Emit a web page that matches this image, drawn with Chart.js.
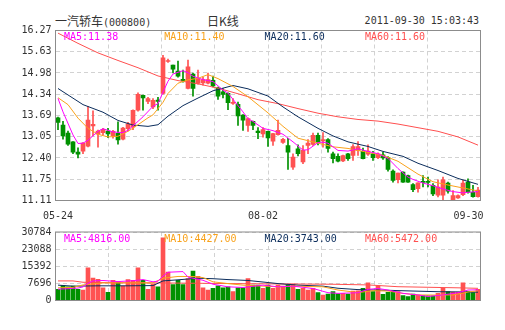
<!DOCTYPE html>
<html>
<head>
<meta charset="utf-8">
<script src="https://cdn.jsdelivr.net/npm/chart.js@4.4.0/dist/chart.umd.min.js"></script>
<style>
  html, body { margin: 0; padding: 0; background: #fff; }
  #wrap { position: relative; width: 505px; height: 330px; overflow: hidden; }
  canvas { position: absolute; left: 0; }
  .t { position: absolute; top: 14px; color: #333; white-space: nowrap; line-height: 14px; }
  .mono { font-family: "DejaVu Sans Mono", monospace; font-size: 10px; }
  .cjk { font-family: "Noto Sans CJK SC", sans-serif; font-size: 12px; }
</style>
</head>
<body>
<div id="wrap">
  <div class="t" style="left:55px"><span class="cjk">一汽轿车</span><span class="mono">(000800)</span></div>
  <div class="t cjk" style="left:207px">日K线</div>
  <div class="t mono" style="right:26px">2011-09-30 15:03:43</div>
  <canvas id="kChart" style="top:0" width="505" height="222"></canvas>
  <canvas id="volChart" style="top:222px" width="505" height="108"></canvas>
</div>
<script>
// daily candles, 05-24 .. 09-30 (85 sessions)
const opens = [13.62,13.40,13.16,12.89,12.58,12.61,12.76,13.37,13.12,13.17,13.22,13.08,13.15,12.97,13.29,13.34,13.85,14.30,14.12,13.95,
  14.16,14.36,15.33,15.22,15.04,14.79,14.51,14.95,14.66,14.68,14.67,14.76,14.53,14.41,14.36,14.06,14.03,13.70,13.39,13.51,
  13.22,13.13,13.21,12.91,13.11,12.87,12.78,12.12,12.68,12.28,12.78,12.81,13.09,12.92,12.96,12.53,12.45,12.31,12.53,12.48,
  12.63,12.60,12.52,12.53,12.41,12.50,12.41,12.00,11.74,11.97,11.87,11.59,11.47,11.68,11.68,11.57,11.27,11.27,11.64,11.13,
  11.19,11.29,11.67,11.36,11.23];
const closes = [13.48,13.07,12.82,12.58,12.52,12.85,13.55,13.42,13.22,13.27,13.13,13.21,12.95,13.31,13.44,13.85,14.33,14.22,14.20,14.15,
  14.12,15.44,15.36,15.10,14.88,14.74,15.17,14.51,14.81,14.78,14.78,14.59,14.28,14.33,14.08,14.08,13.68,13.55,13.60,13.39,
  13.17,13.26,13.01,13.14,13.24,12.97,12.58,12.43,12.53,12.63,12.85,13.09,12.88,12.96,12.69,12.38,12.30,12.47,12.38,12.75,
  12.75,12.38,12.61,12.41,12.53,12.40,12.05,11.72,11.94,11.67,11.67,11.44,11.65,11.66,11.66,11.31,11.52,11.74,11.39,11.26,
  11.26,11.64,11.36,11.23,11.43];
const highs = [13.64,13.51,13.22,12.90,12.71,12.87,13.97,13.83,13.25,13.30,13.30,13.24,13.50,13.33,13.48,13.86,14.38,14.31,14.24,14.20,
  14.24,15.52,15.40,15.22,15.34,15.07,15.37,14.98,15.07,14.85,14.98,14.89,14.55,14.51,14.38,14.20,14.10,13.72,13.62,13.52,
  13.32,13.32,13.22,13.15,13.55,13.00,13.00,12.53,12.80,12.78,12.96,13.16,13.16,13.17,12.99,12.58,12.53,12.49,12.54,12.81,
  12.90,12.70,12.80,12.60,12.56,12.58,12.44,12.04,11.94,11.98,11.88,11.62,11.65,11.87,11.82,11.62,11.74,11.82,11.67,11.41,
  11.28,11.72,11.77,11.57,11.51];
const lows = [13.26,12.97,12.78,12.53,12.40,12.53,12.74,13.07,12.73,13.10,13.02,13.00,12.82,12.95,13.22,13.26,13.82,13.85,14.05,13.90,
  13.85,14.34,15.30,14.98,14.85,14.70,14.50,14.28,14.64,14.61,14.65,14.56,14.18,14.22,13.87,14.03,13.39,13.24,13.21,13.26,
  12.99,13.03,12.75,12.78,13.09,12.84,12.05,12.05,12.46,12.23,12.53,12.78,12.80,12.73,12.58,12.25,12.28,12.29,12.33,12.33,
  12.48,12.37,12.48,12.33,12.38,12.36,12.00,11.67,11.64,11.66,11.66,11.38,11.36,11.52,11.52,11.26,11.22,11.11,11.33,11.11,
  11.17,11.26,11.33,11.21,11.21];
const volumes = [4980,6740,6160,6450,4980,4690,14660,10120,9530,5720,3670,9090,8360,6450,9380,9090,14660,9090,4980,7330,
  6160,28150,12750,7180,9090,7180,9820,13190,10850,5720,4690,5420,6600,5720,6160,3960,5720,5720,9820,6890,
  6890,5420,6890,5420,6890,6450,7180,7330,4980,5420,4690,5420,3520,2490,2930,3960,3000,3230,2930,4250,
  4400,5420,7920,3960,6600,2790,3670,4400,3960,2200,1760,2930,2490,2200,2050,2050,3230,5420,3960,3810,
  3810,7920,3960,3520,4980];

// moving averages: [session index, value]
const ma5Pts = [[0,14.21],[1,13.80],[3,13.10],[4,12.84],[5,12.85],[6,12.94],[8,13.21],[9,13.29],[11,13.19],[13,13.17],[14,13.24],
  [17,13.65],[19,13.97],[20,14.05],[21,14.40],[22,14.73],[23,14.95],[25,15.05],[26,14.99],[27,14.88],[29,14.78],[30,14.75],
  [31,14.72],[33,14.46],[34,14.37],[35,14.18],[37,13.80],[38,13.59],[39,13.51],[41,13.30],[43,13.23],[45,13.12],[47,12.89],
  [49,12.64],[50,12.65],[52,12.87],[53,12.88],[54,12.85],[56,12.63],[58,12.61],[60,12.68],[62,12.60],[64,12.53],[66,12.39],
  [68,12.08],[70,11.82],[71,11.75],[73,11.64],[75,11.56],[77,11.46],[79,11.38],[81,11.34],[82,11.36],[84,11.38]];
const ma10Pts = [[0,14.23],[2,14.02],[4,13.61],[6,13.30],[8,13.12],[10,13.04],[12,13.06],[14,13.21],[16,13.41],[18,13.62],
  [19,13.71],[21,14.09],[22,14.36],[24,14.67],[26,14.77],[28,14.82],[30,14.93],[32,14.81],[35,14.57],[38,14.26],[42,13.77],
  [45,13.36],[48,13.00],[52,12.85],[55,12.74],[58,12.69],[62,12.57],[65,12.48],[68,12.30],[72,11.91],[75,11.68],[78,11.58],
  [82,11.46],[84,11.40]];
const ma20Pts = [[0,14.51],[5,14.02],[9,13.79],[12,13.54],[15,13.40],[18,13.36],[20,13.41],[22,13.67],[25,13.99],[28,14.22],
  [31,14.44],[35,14.60],[38,14.50],[42,14.28],[45,13.95],[48,13.65],[52,13.30],[55,13.07],[58,12.89],[62,12.75],[65,12.60],
  [69,12.45],[72,12.24],[76,12.02],[80,11.78],[84,11.60]];
const ma60Pts = [[0,16.19],[4,15.88],[8,15.59],[12,15.36],[16,15.14],[20,14.89],[24,14.75],[28,14.65],[32,14.52],[36,14.35],
  [40,14.17],[44,14.05],[48,13.90],[52,13.76],[56,13.65],[60,13.57],[64,13.52],[68,13.43],[72,13.32],[76,13.21],[80,13.04],
  [84,12.79]];

const vma5Pts = [[0,5100],[2,5300],[4,5600],[5,6100],[6,7700],[7,8800],[9,9000],[12,8500],[15,8900],[17,9400],[19,8400],
  [20,8700],[21,11000],[22,12700],[25,13000],[26,10500],[27,10000],[29,9100],[31,7300],[34,6150],[37,5850],[41,6900],
  [44,6150],[47,6450],[51,5400],[54,3500],[56,3200],[60,3500],[62,5000],[64,5400],[66,4700],[69,3200],[72,2500],[74,1800],
  [77,2500],[80,3500],[82,4700],[84,4816]];
const vma10Pts = [[0,5700],[3,5900],[5,7000],[9,7900],[14,7900],[19,7900],[21,10000],[24,10800],[27,10800],[29,10300],
  [31,8400],[34,7600],[37,6900],[41,6450],[44,6150],[47,6450],[50,6300],[53,6150],[56,4700],[60,3550],[63,4400],[66,4250],
  [69,3200],[72,2500],[76,2450],[79,2500],[82,3800],[84,4427]];
const vma20Pts = [[0,6900],[3,6450],[8,6600],[14,6600],[19,6700],[21,8800],[24,9300],[28,10000],[31,9800],[34,9400],
  [38,9000],[41,8300],[44,7600],[48,6900],[53,6450],[56,5500],[60,4900],[65,4650],[71,4250],[76,3950],[84,3743]];
const vma60Pts = [[0,8800],[3,8800],[5,8200],[10,8000],[20,7900],[30,7700],[40,7500],[48,7400],[55,7300],[62,7000],
  [68,6200],[75,5900],[80,5700],[84,5472]];

const priceTicks = [11.11, 11.75, 12.40, 13.05, 13.69, 14.34, 14.98, 15.63, 16.27];
const volTicks = [0, 7696, 15392, 23088, 30784];
const dateTicks = [[0, "05-24"], [41, "08-02"], [84, "09-30"]];

const maNames = ["MA5", "MA10", "MA20", "MA60"];
const priceLegend = ["11.38", "11.40", "11.60", "11.60"];
const volLegend = ["4816.00", "4427.00", "3743.00", "5472.00"];

const RED = "#ff5252";
const GREEN = "#009100";
const GRID = "#d2d2d2";
const FRAME = "#8c8c8c";
const TEXT = "#333";
const maColors = ["#ff00ff", "#f9a21a", "#0b2d5c", "#ff4f4f"];
const monoFont = { family: "DejaVu Sans Mono", size: 10 };

const n = closes.length;
const barColors = closes.map((c, i) => (c >= opens[i] ? RED : GREEN));
const pts = (arr) => arr.map(([x, y]) => ({ x, y }));

function maLine(arr, color) {
  return {
    type: "line",
    data: pts(arr),
    borderColor: color,
    borderWidth: 1,
    pointRadius: 0,
    tension: 0,
    order: 0,
  };
}

function xAxis(bottomSpace) {
  return {
    type: "linear",
    min: -0.5,
    max: n - 0.5,
    offset: false,
    afterBuildTicks: (s) => {
      s.ticks = [0, 1, 2, 3, 4, 5, 6, 7, 8].map((k) => ({ value: -0.5 + (k * n) / 8 }));
    },
    afterFit: (s) => { s.height = bottomSpace; },
    ticks: { display: false },
    grid: { color: GRID, drawTicks: false, offset: false },
    border: { display: false, dash: [4, 3] },
  };
}

function yAxis(min, max, tickValues, fmt) {
  return {
    min,
    max,
    afterBuildTicks: (s) => { s.ticks = tickValues.map((v) => ({ value: v })); },
    afterFit: (s) => { s.width = 55.5; },
    ticks: { color: TEXT, font: monoFont, padding: 4, callback: fmt },
    grid: { color: GRID, drawTicks: false },
    border: { display: false, dash: [4, 3] },
  };
}

const framePlugin = {
  id: "frame",
  afterDraw(chart) {
    const { ctx, chartArea: a } = chart;
    ctx.save();
    ctx.strokeStyle = FRAME;
    ctx.lineWidth = 1;
    ctx.strokeRect(a.left, a.top, a.right - a.left, a.bottom - a.top);
    ctx.restore();
  },
};

function legendPlugin(values) {
  return {
    id: "maLegend",
    afterDraw(chart) {
      const { ctx, chartArea: a } = chart;
      ctx.save();
      ctx.font = "10px 'DejaVu Sans Mono'";
      ctx.textBaseline = "middle";
      ctx.textAlign = "left";
      maNames.forEach((name, k) => {
        ctx.fillStyle = maColors[k];
        ctx.fillText(name + ":" + values[k], a.left + 8.5 + k * 100.3, a.top + 7);
      });
      ctx.restore();
    },
  };
}

const datePlugin = {
  id: "dates",
  afterDraw(chart) {
    const { ctx, chartArea: a } = chart;
    const xs = chart.scales.x;
    ctx.save();
    ctx.font = "10px 'DejaVu Sans Mono'";
    ctx.fillStyle = TEXT;
    ctx.textBaseline = "middle";
    dateTicks.forEach(([i, label]) => {
      const w = ctx.measureText(label).width;
      let x = xs.getPixelForValue(i) - w / 2;
      if (x + w > a.right + 3) x = a.right + 3 - w;
      ctx.fillText(label, x, a.bottom + 16);
    });
    ctx.restore();
  },
};

const common = {
  responsive: false,
  animation: false,
  devicePixelRatio: 1,
  plugins: { legend: { display: false }, tooltip: { enabled: false } },
};

new Chart(document.getElementById("kChart"), {
  type: "bar",
  data: {
    datasets: [
      maLine(ma5Pts, maColors[0]),
      maLine(ma10Pts, maColors[1]),
      maLine(ma20Pts, maColors[2]),
      maLine(ma60Pts, maColors[3]),
      {
        data: opens.map((o, i) => ({ x: i, y: [o, closes[i]] })),
        backgroundColor: barColors,
        barThickness: 4,
        minBarLength: 1,
        grouped: false,
        order: 1,
      },
      {
        data: lows.map((l, i) => ({ x: i, y: [l, highs[i]] })),
        backgroundColor: barColors,
        barThickness: 1,
        grouped: false,
        order: 2,
      },
    ],
  },
  options: {
    ...common,
    layout: { padding: { top: 30.5, right: 24.5, bottom: 0, left: 0 } },
    scales: {
      x: xAxis(21.5),
      y: yAxis(11.11, 16.27, priceTicks, (v) => v.toFixed(2)),
    },
  },
  plugins: [framePlugin, legendPlugin(priceLegend), datePlugin],
});

new Chart(document.getElementById("volChart"), {
  type: "bar",
  data: {
    datasets: [
      maLine(vma5Pts, maColors[0]),
      maLine(vma10Pts, maColors[1]),
      maLine(vma20Pts, maColors[2]),
      maLine(vma60Pts, maColors[3]),
      {
        data: volumes.map((v, i) => ({ x: i, y: v })),
        backgroundColor: barColors,
        barThickness: 4,
        grouped: false,
        order: 1,
      },
    ],
  },
  options: {
    ...common,
    layout: { padding: { top: 8.5, right: 24.5, bottom: 0, left: 0 } },
    scales: {
      x: xAxis(29.5),
      y: yAxis(0, 30784, volTicks, (v) => String(v)),
    },
  },
  plugins: [framePlugin, legendPlugin(volLegend)],
});
</script>
</body>
</html>
